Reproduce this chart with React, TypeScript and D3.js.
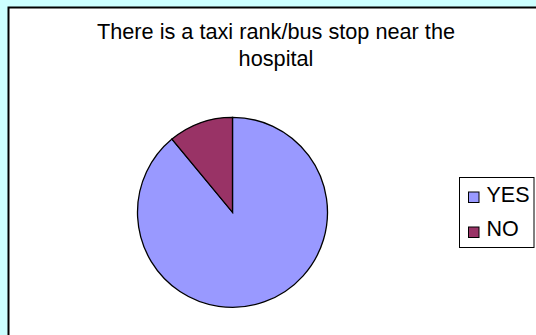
import React from "react";
import * as d3 from "d3";

const categories = ["YES", "NO"];
const values = [89, 11];
const colors = ["#9999FF", "#993366"];
const titleLines = ["There is a taxi rank/bus stop near the", "hospital"];

export default function App() {
  const W = 536, H = 335;
  const cx = 232.5, cy = 212.3, r = 95;
  const pieData = d3.pie<number>().sort(null).value((d) => d)(values);
  const arcGen = d3.arc<d3.PieArcDatum<number>>().innerRadius(0).outerRadius(r);
  const font = "'Liberation Sans', Arial, sans-serif";
  return (
    <svg width={W} height={H} style={{ position: "absolute", left: 0, top: 0, display: "block" }}>
      <rect x={0} y={0} width={W} height={H} fill="#CCFFFF" />
      <rect x={8.5} y={7.5} width={W + 10} height={H + 10} fill="#FFFFFF" stroke="#000" strokeWidth={2} />
      {titleLines.map((t, i) => (
        <text key={i} x={276} y={39 + i * 27} textAnchor="middle" fontFamily={font} fontSize={21.7} fill="#000">
          {t}
        </text>
      ))}
      <g transform={`translate(${cx},${cy})`}>
        {pieData.map((d, i) => (
          <path key={i} d={arcGen(d) || ""} fill={colors[i]} stroke="#000" strokeWidth={1.3} />
        ))}
      </g>
      <rect x={459.5} y={177.5} width={74.5} height={70} fill="#FFFFFF" stroke="#000" strokeWidth={1} />
      {categories.map((c, i) => (
        <g key={c}>
          <rect x={468.5} y={192 + i * 35} width={10.5} height={10.5} fill={colors[i]} stroke="#000" strokeWidth={1} />
          <text x={486.5} y={202.3 + i * 34} fontFamily={font} fontSize={21.5} fill="#000">
            {c}
          </text>
        </g>
      ))}
    </svg>
  );
}
